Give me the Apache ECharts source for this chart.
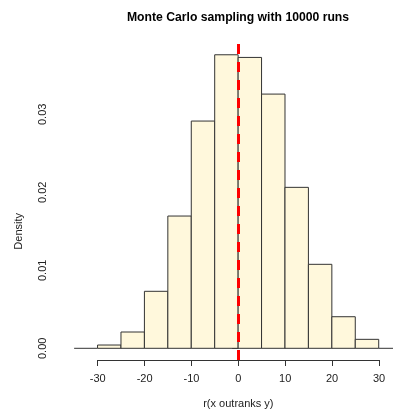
<!DOCTYPE html>
<html>
<head>
<meta charset="utf-8">
<script src="https://cdn.jsdelivr.net/npm/echarts@6/dist/echarts.min.js"></script>
<style>html,body{margin:0;padding:0;background:#fff;}#c{width:393px;height:410px;}</style>
</head>
<body>
<div id="c"></div>
<script>
// Histogram bins (width 5) and densities
var binStarts = [-35, -30, -25, -20, -15, -10, -5, 0, 5, 10, 15, 20, 25, 30];
var binEnds   = [-30, -25, -20, -15, -10, -5, 0, 5, 10, 15, 20, 25, 30, 35];
var densities = [0, 0.00042, 0.00209, 0.00731, 0.01696, 0.02914, 0.03764, 0.0373, 0.0326, 0.02064, 0.01077, 0.00405, 0.00115, 0];
var xTicks = [-30, -20, -10, 0, 10, 20, 30];
var yTicks = [0, 0.01, 0.02, 0.03];
var refLineX = 0;

var FONT = 'Liberation Sans, Arial, Helvetica, sans-serif';
var AXC = '#333';

var histData = binStarts.map(function (s, i) { return [s, binEnds[i], densities[i]]; });

var chart = echarts.init(document.getElementById('c'), null, {renderer: 'canvas'});
chart.setOption({
  animation: false,
  backgroundColor: '#fff',
  textStyle: {fontFamily: FONT},
  graphic: [{
    type: 'text', x: 238, y: 18,
    style: {text: 'Monte Carlo sampling with 10000 runs', fontFamily: FONT, fontSize: 12.2, fontWeight: 'bold', fill: '#000', align: 'center', verticalAlign: 'middle'}
  }],
  grid: [
    {left: 61, right: 0, top: 43, bottom: 50, outerBoundsMode: 'none', containLabel: false},
    {left: 97.7, right: 14, top: 43, bottom: 50, outerBoundsMode: 'none', containLabel: false},
    {left: 61, right: 0, top: 114.3, bottom: 61.7, outerBoundsMode: 'none', containLabel: false}
  ],
  xAxis: [
    {gridIndex: 0, type: 'value', min: -37.8, max: 33.05, show: false},
    {gridIndex: 1, type: 'value', min: xTicks[0], max: xTicks[xTicks.length - 1], interval: 10,
      position: 'bottom',
      axisLine: {show: true, lineStyle: {color: AXC, width: 1}},
      axisTick: {show: true, inside: false, length: 6, lineStyle: {color: AXC}},
      axisLabel: {show: true, color: '#222', fontSize: 11, fontFamily: FONT, margin: 13},
      splitLine: {show: false},
      name: 'r(x outranks y)', nameLocation: 'middle', nameGap: 38,
      nameTextStyle: {color: '#222', fontSize: 11, fontFamily: FONT}
    },
    {gridIndex: 2, type: 'value', min: -37.8, max: 33.05, show: false}
  ],
  yAxis: [
    {gridIndex: 0, type: 'value', min: -0.0015, max: 0.03915, show: false},
    {gridIndex: 1, type: 'value', min: 0, max: 1, show: false},
    {gridIndex: 2, type: 'value', min: yTicks[0], max: yTicks[yTicks.length - 1], interval: 0.01,
      position: 'left',
      axisLine: {show: true, lineStyle: {color: AXC, width: 1}},
      axisTick: {show: true, inside: false, length: 6, lineStyle: {color: AXC}},
      axisLabel: {show: true, color: '#222', fontSize: 11, fontFamily: FONT, margin: 13, rotate: 90,
        formatter: function (v) { return v.toFixed(2); }},
      splitLine: {show: false},
      name: 'Density', nameLocation: 'middle', nameGap: 37, nameRotate: 90,
      nameTextStyle: {color: '#222', fontSize: 11, fontFamily: FONT}
    }
  ],
  series: [{
    type: 'custom',
    xAxisIndex: 0, yAxisIndex: 0,
    clip: true,
    data: histData,
    renderItem: function (params, api) {
      var p0 = api.coord([api.value(0), api.value(2)]);
      var p1 = api.coord([api.value(1), 0]);
      if (api.value(2) === 0) {
        return {type: 'line', shape: {x1: p0[0], y1: p1[1], x2: p1[0], y2: p1[1]},
          style: {stroke: '#333', lineWidth: 1}};
      }
      return {
        type: 'rect',
        shape: {x: p0[0], y: p0[1], width: p1[0] - p0[0], height: p1[1] - p0[1]},
        style: {fill: '#FFF8DC', stroke: '#333', lineWidth: 1}
      };
    },
    markLine: {
      silent: true, symbol: ['none', 'none'],
      label: {show: false},
      lineStyle: {color: '#ff0000', width: 3, type: [10, 8]},
      data: [{xAxis: refLineX}]
    }
  }]
});
</script>
</body>
</html>
